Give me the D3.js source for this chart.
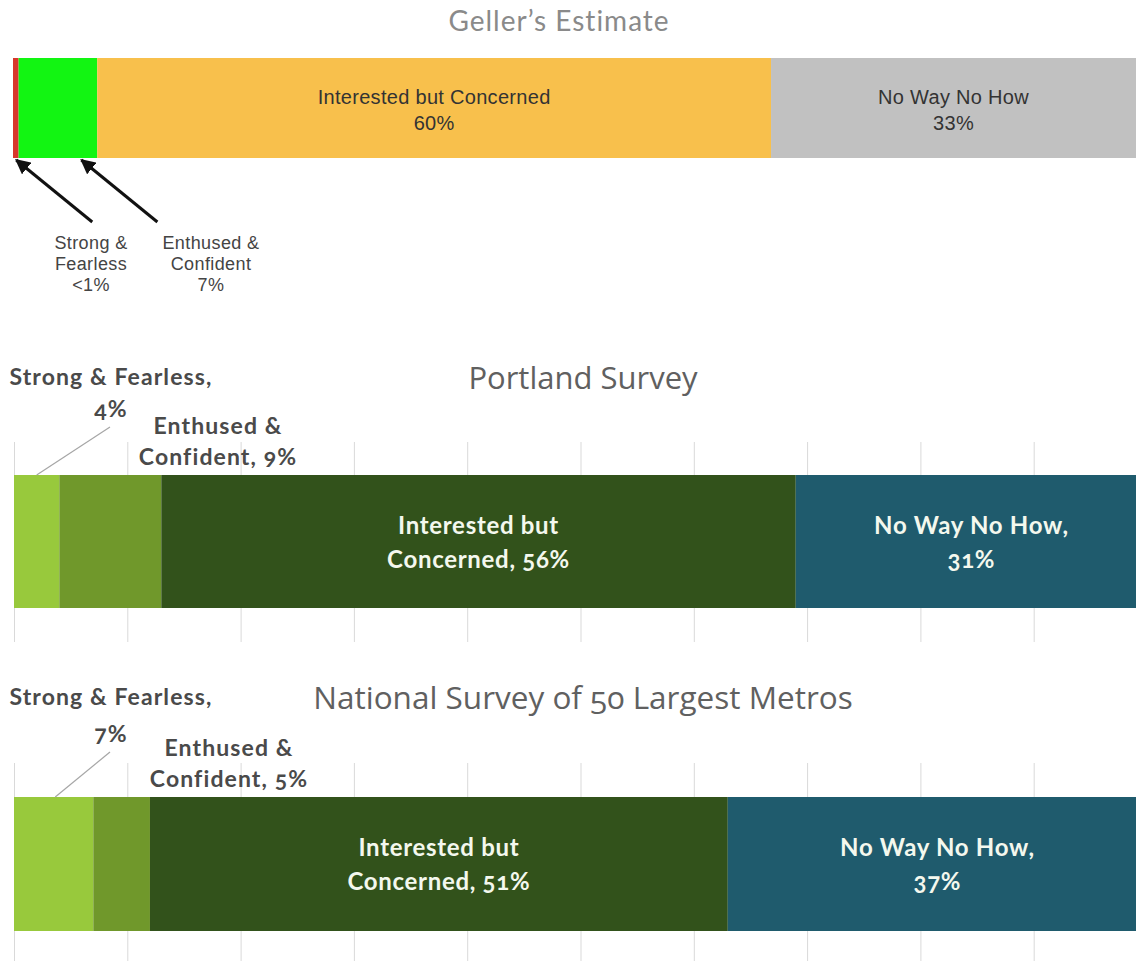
<!DOCTYPE html>
<html>
<head>
<meta charset="utf-8">
<script src="https://cdn.jsdelivr.net/npm/d3@7"></script>
<style>
  body { margin: 0; background: #fff; }
  .onum { font-variant-numeric: oldstyle-nums; }
</style>
</head>
<body>
<div id="chart"></div>
<script>
// categories shared by the three bars
var categories = ["Strong & Fearless", "Enthused & Confident", "Interested but Concerned", "No Way No How"];

// Geller's estimate (percent)
var gellerValues = [0.5, 7, 60, 33];
var gellerLabels = ["<1%", "7%", "60%", "33%"];

// Portland survey (percent)
var portlandValues = [4, 9, 56, 31];

// national survey of 50 largest metros (percent)
var nationalValues = [7, 5, 51, 37];

// gridline ticks for the survey bars
var gridTicks = [0, 10, 20, 30, 40, 50, 60, 70, 80, 90, 100];

var width = 1136, height = 961;

var gellerColors = ["#d8372b", "#12f512", "#f8c04c", "#c1c1c1"];
var surveyColors = ["#98c93c", "#70982b", "#32521b", "#1f5b6d"];

var svg = d3.select("#chart")
  .append("svg")
  .attr("width", width)
  .attr("height", height)
  .style("display", "block");

svg.append("defs").append("marker")
  .attr("id", "arrow")
  .attr("viewBox", "0 0 10 10")
  .attr("refX", 9)
  .attr("refY", 5)
  .attr("markerWidth", 5)
  .attr("markerHeight", 5)
  .attr("orient", "auto")
  .append("path")
  .attr("d", "M0,0L10,5L0,10z")
  .attr("fill", "#111");

function stack(values) {
  var acc = 0;
  return values.map(function(v, i) {
    var d = {cat: categories[i], value: v, x0: acc, x1: acc + v, i: i};
    acc += v;
    return d;
  });
}

// ---------- Geller's Estimate ----------
var gx = d3.scaleLinear().domain([0, 100]).range([13, 1136]);
var gTop = 58, gH = 100;
var gData = stack(gellerValues);

svg.append("text")
  .attr("x", 559).attr("y", 31)
  .attr("text-anchor", "middle")
  .attr("font-family", "Lato, sans-serif")
  .attr("font-size", "28px")
  .attr("letter-spacing", "1px")
  .attr("fill", "#8a8a8a")
  .text("Geller\u2019s Estimate");

svg.append("g").selectAll("rect")
  .data(gData)
  .enter().append("rect")
  .attr("x", d => gx(d.x0))
  .attr("y", gTop)
  .attr("width", d => gx(d.x1) - gx(d.x0))
  .attr("height", gH)
  .attr("fill", d => gellerColors[d.i]);

svg.append("g").selectAll("text")
  .data(gData.slice(2))
  .enter().append("text")
  .attr("text-anchor", "middle")
  .attr("font-family", "'Liberation Sans', Arial, sans-serif")
  .attr("font-size", "20px")
  .attr("letter-spacing", "0.3px")
  .attr("fill", "#333")
  .each(function(d) {
    var cx = (gx(d.x0) + Math.min(gx(d.x1), width)) / 2;
    var t = d3.select(this);
    t.append("tspan").attr("x", cx).attr("y", gTop + 46).text(d.cat);
    t.append("tspan").attr("x", cx).attr("y", gTop + 72).text(gellerLabels[d.i]);
  });

// arrows pointing to the two small segments
var arrowTargets = [gData[0].x0 + 0.2, gData[1].x0 + 5.5];
var arrowLabelX = [91, 211];
svg.append("g").selectAll("line")
  .data(arrowTargets)
  .enter().append("line")
  .attr("x1", (d, i) => gx(d) + 77)
  .attr("y1", 222)
  .attr("x2", d => gx(d) + 1)
  .attr("y2", gTop + gH + 2)
  .attr("stroke", "#111")
  .attr("stroke-width", 3)
  .attr("marker-end", "url(#arrow)");

svg.append("g").selectAll("text")
  .data(gData.slice(0, 2))
  .enter().append("text")
  .attr("text-anchor", "middle")
  .attr("font-family", "'Liberation Sans', Arial, sans-serif")
  .attr("font-size", "18px")
  .attr("letter-spacing", "0.4px")
  .attr("fill", "#444")
  .each(function(d, i) {
    var words = d.cat.split(" ");
    var lines = [words[0] + " " + words[1], words[2], gellerLabels[d.i]];
    var t = d3.select(this);
    lines.forEach(function(l, k) {
      t.append("tspan").attr("x", arrowLabelX[i]).attr("y", 249 + k * 21).text(l);
    });
  });

// ---------- Survey bars ----------
var sx = d3.scaleLinear().domain([0, 100]).range([14, 1147]);

function surveyBar(values, title, o) {
  var data = stack(values);
  var g = svg.append("g");

  g.append("text")
    .attr("x", 583).attr("y", o.titleY)
    .attr("text-anchor", "middle")
    .attr("font-family", "'Open Sans', sans-serif")
    .attr("font-size", o.titleSize + "px")
    .attr("fill", "#606060")
    .attr("class", "onum")
    .text(title);

  // gridlines
  g.append("g")
    .attr("transform", "translate(0," + o.gridBottom + ")")
    .call(d3.axisBottom(sx).tickValues(gridTicks).tickSize(-(o.gridBottom - o.gridTop)).tickFormat(""))
    .call(a => a.select(".domain").remove())
    .selectAll("line")
    .attr("stroke", "#d9d9d9");

  g.append("g").selectAll("rect")
    .data(data)
    .enter().append("rect")
    .attr("x", d => sx(d.x0))
    .attr("y", o.barTop)
    .attr("width", d => sx(d.x1) - sx(d.x0))
    .attr("height", o.barH)
    .attr("fill", d => surveyColors[d.i]);

  // labels inside the two big segments
  g.append("g").selectAll("text")
    .data(data.slice(2))
    .enter().append("text")
    .attr("text-anchor", "middle")
    .attr("font-family", "Lato, sans-serif")
    .attr("font-weight", "bold")
    .attr("font-size", "24px")
    .attr("letter-spacing", "0.7px")
    .attr("fill", "#f4f8ee")
    .attr("class", "onum")
    .each(function(d) {
      var cx = (sx(d.x0) + sx(d.x1)) / 2;
      var lines = d.i === 2 ? ["Interested but", "Concerned, " + d.value + "%"]
                            : [d.cat + ",", d.value + "%"];
      var t = d3.select(this);
      lines.forEach(function(l, k) {
        t.append("tspan").attr("x", cx).attr("y", o.barTop + o.barH / 2 - 8 + k * 34).text(l);
      });
    });

  // labels above the two small segments
  var lab = g.append("g")
    .attr("font-family", "Lato, sans-serif")
    .attr("font-weight", "bold")
    .attr("font-size", "23px")
    .attr("letter-spacing", "1.1px")
    .attr("fill", "#4a4a4a")
    .attr("class", "onum")
    .attr("text-anchor", "middle");

  var sf = lab.append("text");
  sf.append("tspan").attr("x", 111).attr("y", o.sfY).text(categories[0] + ",");
  sf.append("tspan").attr("x", 111).attr("y", o.pctY).text(values[0] + "%");

  var ec = lab.append("text");
  ec.append("tspan").attr("x", o.ecX).attr("y", o.ecY).text("Enthused &");
  ec.append("tspan").attr("x", o.ecX).attr("y", o.ecY + 31).text("Confident, " + values[1] + "%");

  // leader from the small label to its segment
  g.append("line")
    .attr("x1", 110).attr("y1", o.pctY + 10)
    .attr("x2", sx(data[0].x0 + data[0].value * o.leadAt))
    .attr("y2", o.barTop)
    .attr("stroke", "#a6a6a6")
    .attr("stroke-width", 1.2);
}

surveyBar(portlandValues, "Portland Survey",
  {titleY: 389, titleSize: 31, sfY: 385, pctY: 417, ecX: 218, ecY: 434,
   barTop: 475, barH: 133, gridTop: 442, gridBottom: 642, leadAt: 0.5});
surveyBar(nationalValues, "National Survey of 50 Largest Metros",
  {titleY: 709, titleSize: 31.5, sfY: 705, pctY: 742, ecX: 229, ecY: 756,
   barTop: 797, barH: 134, gridTop: 763, gridBottom: 961, leadAt: 0.52});
</script>
</body>
</html>
